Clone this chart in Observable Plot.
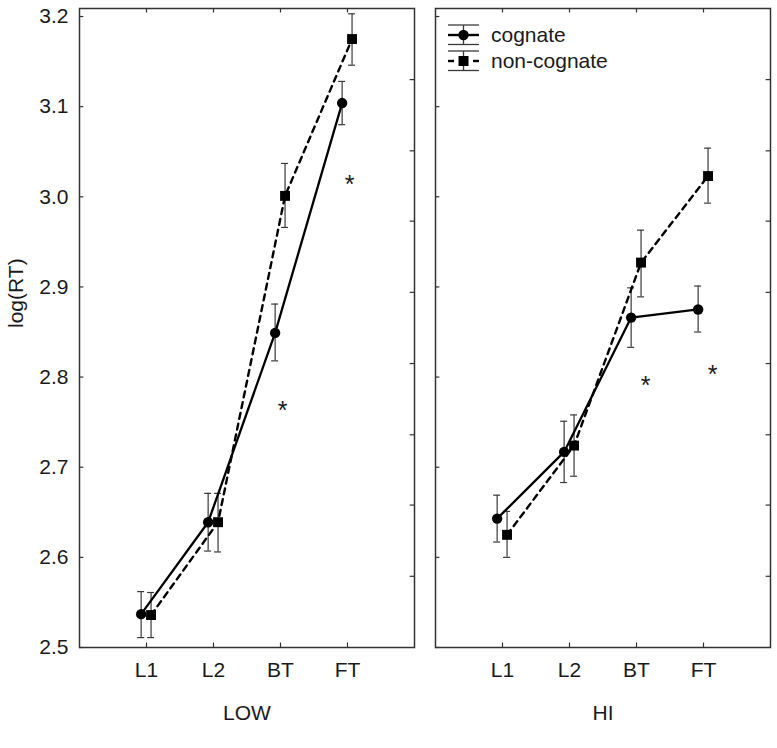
<!DOCTYPE html>
<html><head><meta charset="utf-8">
<script src="https://cdn.jsdelivr.net/npm/d3@7"></script>
<script src="https://cdn.jsdelivr.net/npm/@observablehq/plot@0.6"></script>
<style>
body{margin:0;background:#fff;font-family:Arial,"Liberation Sans",sans-serif}
#chart{position:relative;width:777px;height:748px;display:flex}
#chart svg{display:block}
#legend{position:absolute;left:0;top:0;pointer-events:none}
</style>
</head><body><div id="chart"></div>
<script>
// ---- data ----
const categories = ["L1", "L2", "BT", "FT"];
const panels = ["LOW", "HI"];
const seriesNames = ["cognate", "non-cognate"];

const lowCognateMean = [2.537, 2.639, 2.849, 3.104];
const lowCognateLo   = [2.511, 2.607, 2.818, 3.080];
const lowCognateHi   = [2.562, 2.671, 2.881, 3.128];

const lowNonCognateMean = [2.536, 2.639, 3.001, 3.175];
const lowNonCognateLo   = [2.511, 2.606, 2.966, 3.146];
const lowNonCognateHi   = [2.561, 2.671, 3.037, 3.203];

const hiCognateMean = [2.643, 2.717, 2.866, 2.875];
const hiCognateLo   = [2.617, 2.683, 2.833, 2.850];
const hiCognateHi   = [2.669, 2.751, 2.899, 2.901];

const hiNonCognateMean = [2.625, 2.724, 2.927, 3.023];
const hiNonCognateLo   = [2.600, 2.690, 2.889, 2.993];
const hiNonCognateHi   = [2.651, 2.758, 2.963, 3.054];

// significance markers: category, value
const lowStarCats = ["BT", "FT"];
const lowStarVals = [2.767, 3.017];
const hiStarCats  = ["BT", "FT"];
const hiStarVals  = [2.794, 2.807];

const yTicks = [2.5, 2.6, 2.7, 2.8, 2.9, 3.0, 3.1, 3.2];
const rightTicks = [2.579, 2.658, 2.736, 2.815, 2.894, 2.973, 3.051, 3.130];

// ---- build tables ----
const serieOffset = {"cognate": -0.08, "non-cognate": 0.068};
function rowsFor(series, mean, lo, hi) {
  return categories.map((c, i) => ({series, cat: c, pos: i + 1 + serieOffset[series], mean: mean[i], lo: lo[i], hi: hi[i]}));
}
const data = {
  LOW: {
    cog: rowsFor("cognate", lowCognateMean, lowCognateLo, lowCognateHi),
    non: rowsFor("non-cognate", lowNonCognateMean, lowNonCognateLo, lowNonCognateHi),
    stars: lowStarCats.map((c, i) => ({pos: categories.indexOf(c) + 1, v: lowStarVals[i]})),
    starDx: 2
  },
  HI: {
    cog: rowsFor("cognate", hiCognateMean, hiCognateLo, hiCognateHi),
    non: rowsFor("non-cognate", hiNonCognateMean, hiNonCognateLo, hiNonCognateHi),
    stars: hiStarCats.map((c, i) => ({pos: categories.indexOf(c) + 1, v: hiStarVals[i]})),
    starDx: 9
  }
};

const FONT = "Arial, 'Liberation Sans', sans-serif";
const TXT = "#1a1a1a";
const yDomain = [2.5, 3.2089];
const xDomain = [0, 5];
const catPos = categories.map((c, i) => i + 1);

function panel(name, opts) {
  const d = data[name];
  const all = d.cog.concat(d.non);
  const cap = 0.052;
  const marks = [
    // error bars
    Plot.ruleX(all, {x: "pos", y1: "lo", y2: "hi", stroke: "#3a3a3a", strokeWidth: 1.2}),
    Plot.ruleY(all, {y: "lo", x1: r => r.pos - cap, x2: r => r.pos + cap, stroke: "#3a3a3a", strokeWidth: 1.2}),
    Plot.ruleY(all, {y: "hi", x1: r => r.pos - cap, x2: r => r.pos + cap, stroke: "#3a3a3a", strokeWidth: 1.2}),
    // lines
    Plot.line(d.cog, {x: "pos", y: "mean", stroke: "#000", strokeWidth: 2.3}),
    Plot.line(d.non, {x: "pos", y: "mean", stroke: "#000", strokeWidth: 2.4, strokeDasharray: "6,5"}),
    // markers
    Plot.dot(d.cog, {x: "pos", y: "mean", r: 5.2, fill: "#000", stroke: null}),
    Plot.dot(d.non, {x: "pos", y: "mean", symbol: "square", r: 5.6, fill: "#000", stroke: null}),
    // stars
    Plot.text(d.stars, {x: "pos", y: "v", text: () => "*", fontSize: 25, fill: TXT, dx: d.starDx, dy: 4}),
    // inward ticks
    Plot.ruleY(yTicks, {y: v => v, x1: xDomain[0], x2: xDomain[0] + 0.065, stroke: "#333", strokeWidth: 1.2}),
    Plot.ruleY(rightTicks, {y: v => v, x1: xDomain[1] - 0.065, x2: xDomain[1], stroke: "#333", strokeWidth: 1.2}),
    Plot.ruleX(catPos, {x: v => v, y1: yDomain[0], y2: yDomain[0] + 0.005, stroke: "#333", strokeWidth: 1.2}),
    Plot.ruleX(catPos, {x: v => v, y1: yDomain[1], y2: yDomain[1] - 0.005, stroke: "#333", strokeWidth: 1.2}),
    Plot.frame({stroke: "#333", strokeWidth: 1.5}),
    // x tick labels
    Plot.axisX(catPos, {tickSize: 0, tickPadding: 15, tickFormat: v => categories[v - 1], fontSize: 21, fill: TXT, label: null}),
    // panel label
    Plot.text([name], {frameAnchor: "bottom", text: v => v, dy: 66, fontSize: 21, fill: TXT, lineAnchor: "middle"})
  ];
  if (opts.yAxis) {
    marks.push(Plot.axisY(yTicks, {tickSize: 0, tickPadding: 11, tickFormat: d3.format(".1f"), fontSize: 21, fill: TXT, label: null}));
    marks.push(Plot.text(["log(RT)"], {frameAnchor: "left", text: v => v, rotate: -90, dx: -63, fontSize: 21, fill: TXT, lineAnchor: "middle"}));
  }
  return Plot.plot({
    width: opts.width, height: 748,
    marginLeft: opts.marginLeft, marginRight: opts.marginRight, marginTop: 8, marginBottom: 101,
    style: {fontFamily: FONT, fontSize: "21px", background: "#fff", overflow: "visible"},
    x: {domain: xDomain, axis: null},
    y: {domain: yDomain, axis: opts.yAxis ? undefined : null},
    marks
  });
}

const chart = document.getElementById("chart");
chart.appendChild(panel("LOW", {width: 424, marginLeft: 79, marginRight: 10, yAxis: true}));
chart.appendChild(panel("HI", {width: 353, marginLeft: 11, marginRight: 7, yAxis: false}));

// ---- legend (inside HI panel, top-left) ----
const lg = d3.select(chart).append("svg").attr("id", "legend").attr("width", 777).attr("height", 748)
  .style("font-family", FONT);
const legendRows = seriesNames.map((s, i) => ({s, i}));
const x0 = 448, x1 = 479, xm = 463.5;
legendRows.forEach(({s, i}) => {
  const cy = 35 + i * 26;
  const g = lg.append("g");
  g.append("line").attr("x1", x0).attr("x2", x1).attr("y1", cy - 10).attr("y2", cy - 10).attr("stroke", "#3a3a3a").attr("stroke-width", 1.3);
  g.append("line").attr("x1", x0).attr("x2", x1).attr("y1", cy + 9.5).attr("y2", cy + 9.5).attr("stroke", "#3a3a3a").attr("stroke-width", 1.3);
  g.append("line").attr("x1", xm).attr("x2", xm).attr("y1", cy - 10).attr("y2", cy + 9.5).attr("stroke", "#3a3a3a").attr("stroke-width", 1.3);
  if (i === 0) {
    g.append("line").attr("x1", x0).attr("x2", x1).attr("y1", cy).attr("y2", cy).attr("stroke", "#000").attr("stroke-width", 2.4);
    g.append("circle").attr("cx", xm).attr("cy", cy).attr("r", 5.2).attr("fill", "#000");
  } else {
    g.append("line").attr("x1", x0).attr("x2", x0 + 6).attr("y1", cy).attr("y2", cy).attr("stroke", "#000").attr("stroke-width", 2.4);
    g.append("line").attr("x1", x1 - 6).attr("x2", x1).attr("y1", cy).attr("y2", cy).attr("stroke", "#000").attr("stroke-width", 2.4);
    g.append("rect").attr("x", xm - 5).attr("y", cy - 5).attr("width", 10).attr("height", 10).attr("fill", "#000");
  }
  g.append("text").attr("x", 491).attr("y", cy).attr("dy", "0.35em").attr("font-size", 21).attr("fill", TXT).text(s);
});
</script>
</body></html>
